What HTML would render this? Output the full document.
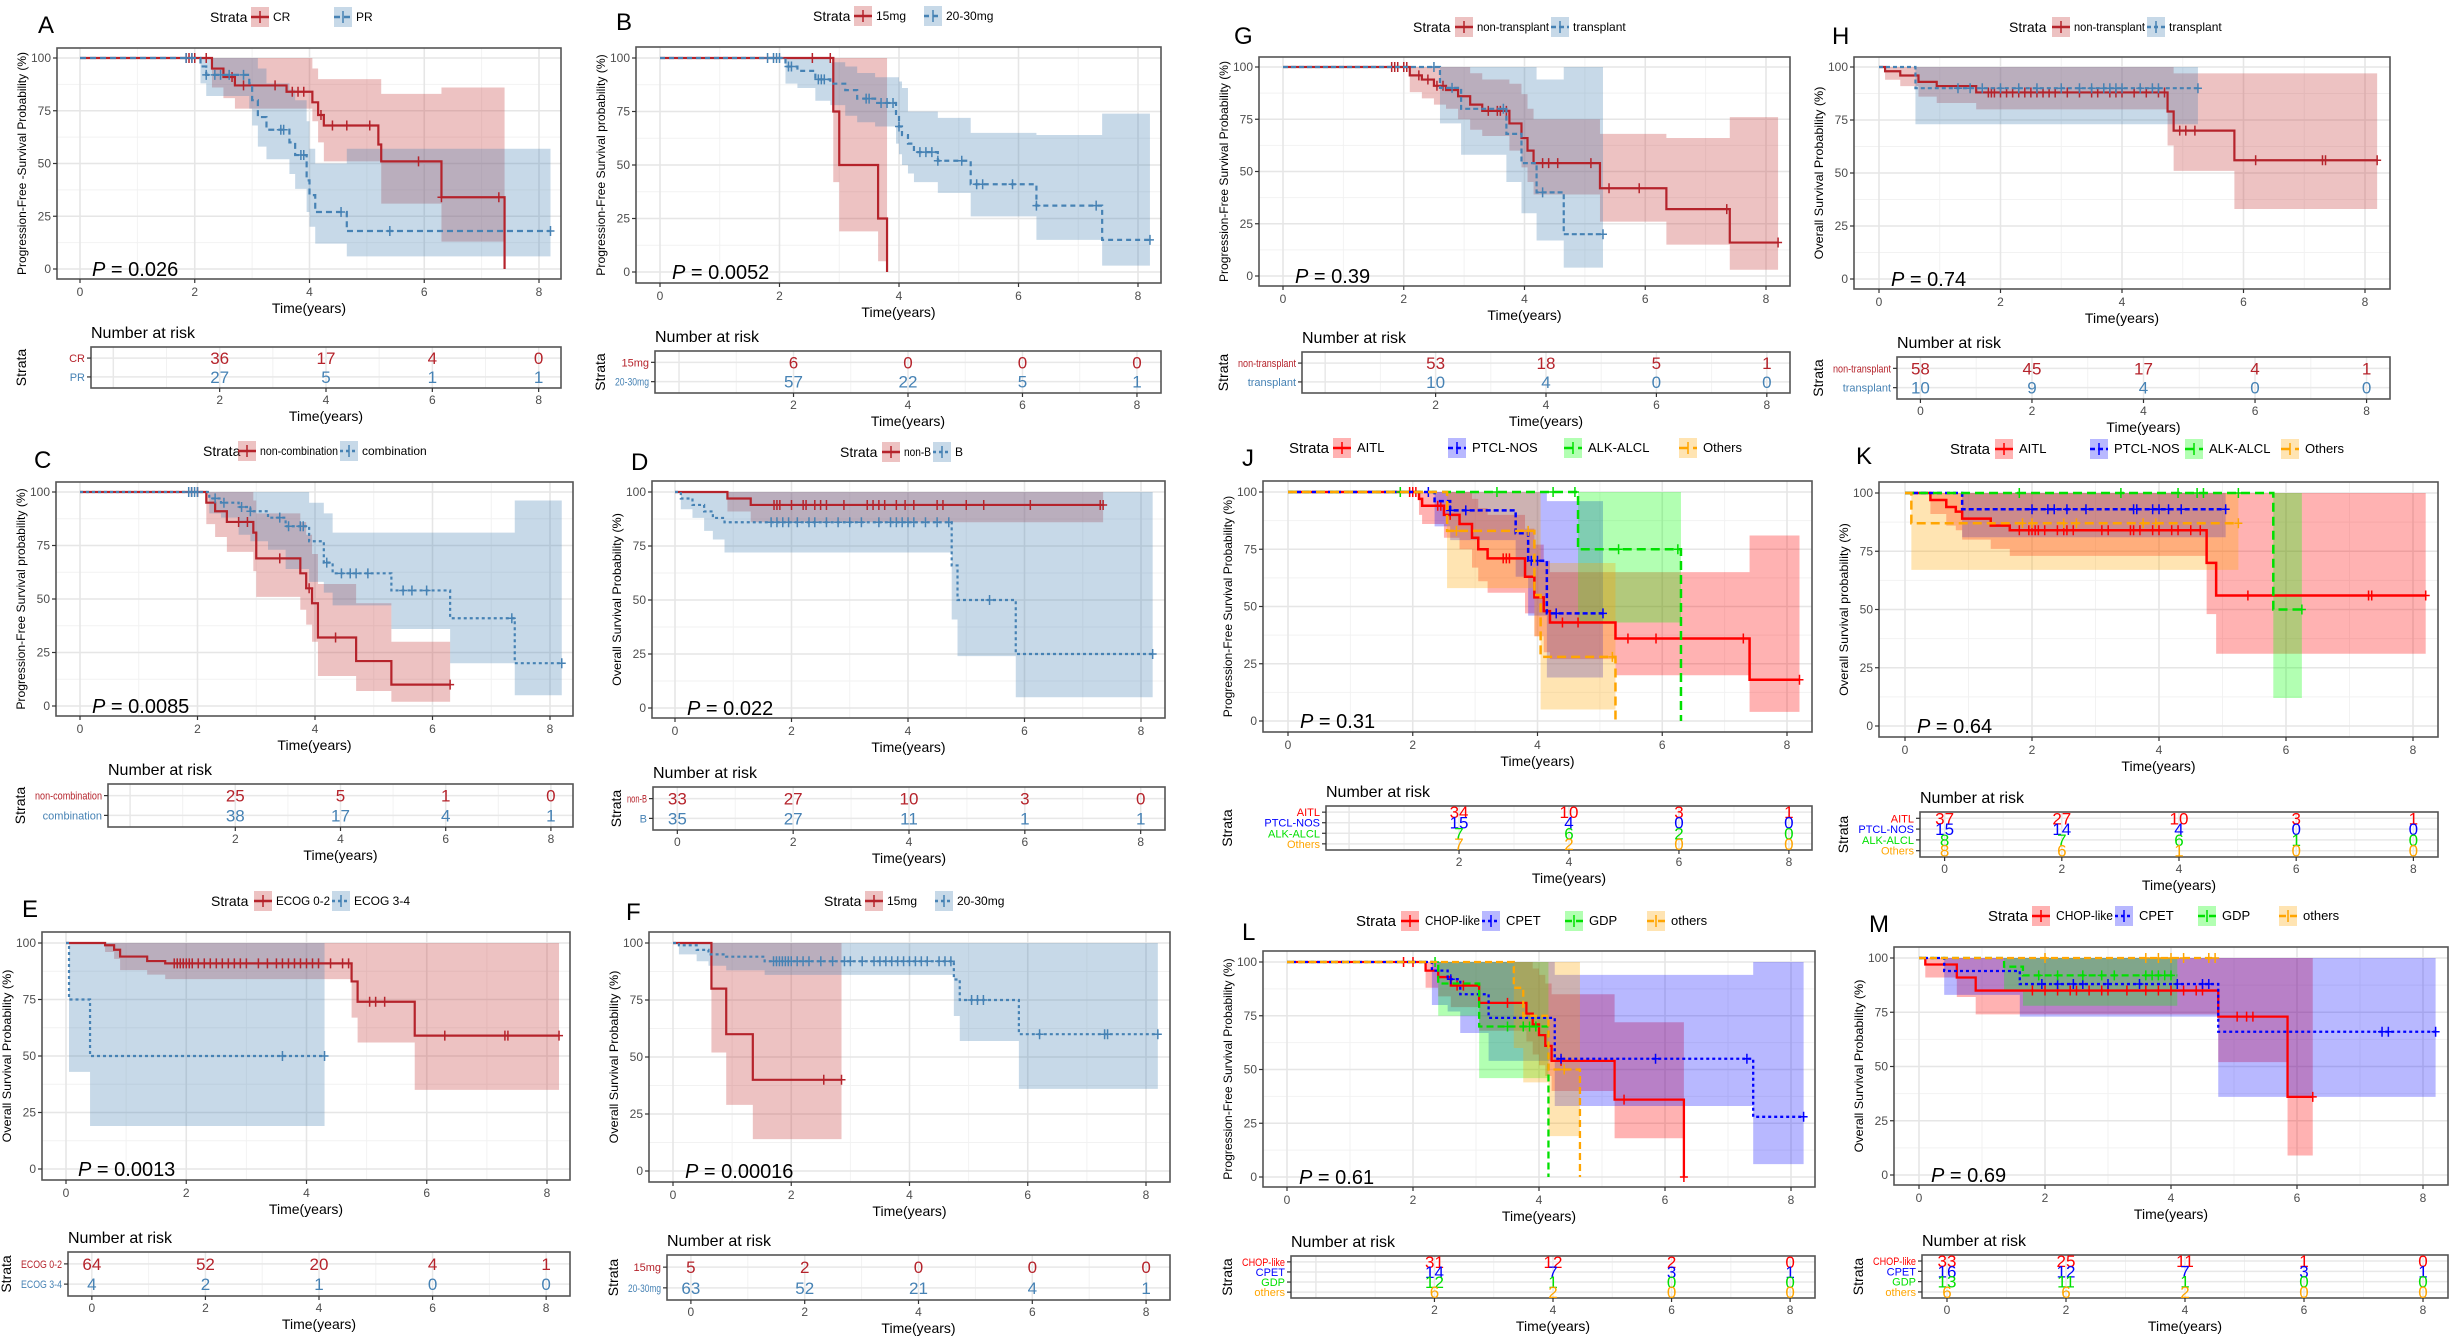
<!DOCTYPE html>
<html><head><meta charset="utf-8">
<style>
html,body{margin:0;padding:0;background:#fff;}
svg{display:block;font-family:"Liberation Sans",Arial,sans-serif;}
</style></head>
<body>
<svg id="fig" xmlns="http://www.w3.org/2000/svg" width="2458" height="1336" viewBox="0 0 2458 1336"></svg>
<script>
// ===== DATA =====
const A_CR_t=[2.3,2.5,2.7,3.6,4.05,4.15,4.25,5.2,5.25,6.3,7.4];
const A_CR_s=[95,91,87,84,79,73,68,59,51,34,0];
const A_CR_hi=[100,100,100,100,95,90,90,90,83,86,0];
const A_CR_lo=[86,81,76,76,70,60,51,51,31,13,0];
const A_CR_c=[1.85,1.9,1.95,2.0,2.2,2.65,2.85,3.4,3.7,3.8,3.9,4.2,4.4,4.65,5.05,5.9,6.3,7.3];
const A_PR_t=[2.1,2.2,2.95,3.0,3.1,3.25,3.65,3.75,3.95,4.0,4.1,4.65];
const A_PR_s=[96,92,88,80,72,66,60,54,42,35,27,18];
const A_PR_hi=[100,100,100,100,95,88,85,80,70,57,50,57];
const A_PR_lo=[88,82,76,68,58,52,45,38,27,20,12,6];
const A_PR_c=[1.85,1.95,2.2,2.35,2.45,2.6,2.85,3.5,3.55,3.85,3.9,4.55,5.4,8.2];
const A_risk_CR=[36,17,4,0], A_risk_PR=[27,5,1,1];
const B_15_t=[2.9,3.0,3.65,3.8], B_15_s=[75,50,25,0], B_15_hi=[100,100,100,0], B_15_lo=[42,19,5,0], B_15_c=[2.55,2.85];
const B_20_t=[2.1,2.3,2.6,2.85,3.1,3.3,3.6,3.95,4.0,4.05,4.15,4.25,4.65,5.2,6.3,7.4];
const B_20_s=[96,94,90,88,85,81,79,73,68,64,60,56,52,41,31,15];
const B_20_hi=[100,100,100,98,96,93,91,91,89,86,75,75,72,65,64,74];
const B_20_lo=[88,86,80,78,73,70,68,60,55,50,46,42,37,26,15,3];
const B_20_c=[1.8,1.9,1.95,2.0,2.15,2.2,2.65,2.7,2.75,3.45,3.5,3.7,3.8,3.9,4.0,4.35,4.45,4.55,4.65,5.05,5.3,5.4,5.9,6.3,7.3,8.2];
const B_risk_15=[6,0,0,0], B_risk_20=[57,22,5,1];
const C_NC_t=[2.15,2.3,2.5,2.95,3.0,3.75,3.85,3.95,4.05,4.7,5.3];
const C_NC_s=[95,91,86,81,69,62,55,48,32,21,10];
const C_NC_hi=[100,100,100,96,90,86,80,71,57,48,30];
const C_NC_lo=[85,79,72,63,51,45,38,30,14,7,2];
const C_NC_c=[1.9,2.0,2.7,2.85,3.4,3.9,4.35,6.3];
const C_CO_t=[2.2,2.4,2.7,2.9,3.2,3.5,3.9,4.15,4.3,5.3,6.3,7.4];
const C_CO_s=[97,95,93,91,88,84,77,67,62,54,41,20];
const C_CO_hi=[100,100,100,100,100,100,95,90,81,81,81,96];
const C_CO_lo=[90,88,80,77,73,64,58,53,47,36,20,5];
const C_CO_c=[1.85,1.9,1.95,2.0,2.3,2.45,2.75,2.9,3.4,3.55,3.75,3.8,4.2,4.45,4.6,4.7,4.9,5.5,5.65,5.9,7.35,8.2];
const C_risk_NC=[25,5,1,0], C_risk_CO=[38,17,4,1];
const D_NB_t=[0.9,1.3], D_NB_s=[97,94], D_NB_hi=[100,100], D_NB_lo=[91,86];
const D_NB_c=[1.7,1.75,1.8,2.0,2.2,2.25,2.4,2.5,2.6,2.9,3.3,3.4,3.5,3.6,3.8,3.95,4.1,4.5,4.6,5.0,5.3,6.1,7.3,7.35];
const D_B_t=[0.1,0.3,0.5,0.65,0.85,4.75,4.85,5.85], D_B_s=[97,94,91,88,86,66,50,25];
const D_B_hi=[100,100,100,100,100,100,100,100], D_B_lo=[92,88,82,78,72,41,24,5];
const D_B_c=[1.65,1.75,1.85,1.95,2.1,2.3,2.4,2.6,2.8,3.0,3.2,3.5,3.7,3.8,3.9,4.0,4.1,4.3,4.5,4.7,5.4,8.2];
const D_risk_NB=[33,27,10,3,0], D_risk_B=[35,27,11,1,1];
const E_G1_t=[0.65,0.8,0.9,1.35,1.65,4.75,4.85,5.8], E_G1_s=[99,97,94,92,91,83,74,59];
const E_G1_hi=[100,100,100,100,100,100,100,100], E_G1_lo=[96,93,88,86,84,67,56,35];
const E_G1_c=[1.8,1.85,1.9,1.95,2.0,2.05,2.1,2.2,2.3,2.4,2.5,2.6,2.7,2.8,2.9,3.0,3.2,3.35,3.5,3.6,3.7,3.8,3.9,4.0,4.1,4.2,4.4,4.6,4.7,5.05,5.15,5.3,6.3,7.3,7.35,8.2];
const E_G2_t=[0.05,0.4], E_G2_s=[75,50], E_G2_hi=[100,100], E_G2_lo=[43,19], E_G2_c=[3.6,4.3];
const E_risk_G1=[64,52,20,4,1], E_risk_G2=[4,2,1,0,0];
const F_15_t=[0.65,0.9,1.35], F_15_s=[80,60,40], F_15_hi=[100,100,100], F_15_lo=[52,29,14], F_15_c=[2.55,2.85];
const F_20_t=[0.1,0.4,0.6,0.9,1.55,4.75,4.85,5.85], F_20_s=[99,97,95,94,92,84,75,60];
const F_20_hi=[100,100,100,100,100,100,100,100], F_20_lo=[95,92,90,88,86,68,57,36];
const F_20_c=[1.7,1.75,1.8,1.85,1.9,1.95,2.0,2.1,2.2,2.3,2.5,2.7,2.9,3.0,3.2,3.4,3.5,3.6,3.7,3.8,3.9,4.0,4.1,4.2,4.3,4.5,4.6,4.7,5.05,5.15,5.25,6.2,7.3,7.35,8.2];
const F_risk_15=[5,2,0,0,0], F_risk_20=[63,52,21,4,1];
const G_NT_t=[2.1,2.3,2.5,2.7,2.9,3.1,3.3,3.75,3.95,4.05,4.15,5.25,6.35,7.4];
const G_NT_s=[96,94,91,89,86,82,79,73,66,60,54,42,32,16];
const G_NT_hi=[100,100,100,100,100,97,94,92,87,80,75,68,66,76];
const G_NT_lo=[88,85,82,80,75,70,67,60,52,45,39,26,15,3];
const G_NT_c=[1.8,1.85,1.9,2.0,2.05,2.25,2.4,2.55,2.65,3.4,3.55,3.6,3.7,4.3,4.4,4.55,5.1,5.4,5.9,7.35,8.2];
const G_T_t=[2.6,2.95,3.7,3.95,4.2,4.65], G_T_s=[90,80,68,54,40,20];
const G_T_hi=[100,100,100,100,94,100], G_T_lo=[73,58,45,30,17,4];
const G_T_c=[2.5,2.8,3.65,4.3,5.3];
const G_risk_NT=[53,18,5,1], G_risk_T=[10,4,0,0];
const H_NT_t=[0.1,0.35,0.65,0.95,1.6,4.75,4.85,5.85], H_NT_s=[98,96,93,91,88,79,70,56];
const H_NT_hi=[100,100,100,100,100,100,97,97], H_NT_lo=[94,91,86,83,80,63,51,33];
const H_NT_c=[1.8,1.85,1.9,2.0,2.1,2.2,2.3,2.4,2.5,2.6,2.7,2.8,2.9,3.1,3.3,3.5,3.6,3.8,3.9,4.0,4.2,4.4,4.6,4.7,4.95,5.05,5.2,6.2,7.3,7.35,8.2];
const H_T_t=[0.6], H_T_s=[90], H_T_hi=[100], H_T_lo=[73];
const H_T_c=[1.3,1.5,1.7,2.0,2.3,2.6,3.0,3.3,3.5,3.7,3.8,3.9,4.0,4.3,4.5,4.6,5.25];
const H_risk_NT=[58,45,17,4,1], H_risk_T=[10,9,4,0,0];
const J_AI_t=[2.1,2.15,2.5,2.75,2.95,3.05,3.2,3.8,3.95,4.1,4.2,5.25,7.4];
const J_AI_s=[97,94,90,86,80,75,71,63,54,48,43,36,18];
const J_AI_hi=[100,100,100,100,97,93,90,84,77,70,65,65,81];
const J_AI_lo=[90,86,80,75,67,61,56,47,37,30,27,20,4];
const J_AI_c=[1.8,1.95,2.0,2.05,2.4,2.45,2.6,3.45,3.5,3.55,4.4,4.65,5.45,5.9,7.3,8.2];
const J_PT_t=[2.35,2.6,3.65,3.85,4.15], J_PT_s=[96,92,82,70,47], J_PT_hi=[100,100,100,100,96], J_PT_lo=[85,79,63,46,19];
const J_PT_c=[2.25,2.6,2.85,3.9,4.0,4.3,5.05];
const J_AL_t=[4.65,6.3], J_AL_s=[75,0], J_AL_hi=[100,0], J_AL_lo=[43,0], J_AL_c=[1.8,3.35,4.25,4.6,5.3,6.25];
const J_OT_t=[2.55,3.95,4.05,5.25], J_OT_s=[83,55,28,0], J_OT_hi=[100,100,69,0], J_OT_lo=[58,37,5,0], J_OT_c=[2.7,3.85,5.2];
const J_risk_AI=[34,10,3,1], J_risk_PT=[15,4,0,0], J_risk_AL=[7,6,2,0], J_risk_OT=[7,2,0,0];
const K_AI_t=[0.4,0.65,0.8,0.9,1.35,1.65,4.75,4.9], K_AI_s=[97,94,92,89,86,84,70,56];
const K_AI_hi=[100,100,100,100,100,100,100,100], K_AI_lo=[91,86,84,80,76,73,48,31];
const K_AI_c=[1.8,1.95,2.0,2.05,2.1,2.2,2.4,2.5,2.55,2.65,3.1,3.2,3.55,3.6,3.7,3.9,4.0,4.2,4.3,4.5,4.65,5.4,7.3,7.35,8.2];
const K_PT_t=[0.9], K_PT_s=[93], K_PT_hi=[100], K_PT_lo=[81];
const K_PT_c=[2.0,2.25,2.35,2.55,2.85,3.6,3.65,3.9,4.0,4.15,4.35,5.05];
const K_AL_t=[5.8], K_AL_s=[50], K_AL_hi=[100], K_AL_lo=[12], K_AL_c=[1.8,3.4,4.3,4.6,4.7,5.25,6.25];
const K_OT_t=[0.1], K_OT_s=[87], K_OT_hi=[100], K_OT_lo=[67], K_OT_c=[1.85,2.0,2.5,2.7,3.75,3.95,5.25];
const K_risk_AI=[37,27,10,3,1], K_risk_PT=[15,14,4,0,0], K_risk_AL=[8,7,6,1,0], K_risk_OT=[8,6,1,0,0];
const L_CH_t=[2.2,2.4,2.6,3.05,3.8,3.9,4.0,4.1,4.2,5.2,6.3], L_CH_s=[96,93,89,81,76,71,66,61,54,36,0];
const L_CH_hi=[100,100,100,100,100,97,94,90,85,72,0], L_CH_lo=[88,84,79,68,63,57,52,47,40,18,0];
const L_CH_c=[1.85,2.0,2.7,2.8,3.5,4.35,5.35,6.3];
const L_CP_t=[2.3,2.55,2.75,3.2,4.25,7.4], L_CP_s=[96,92,85,74,55,28];
const L_CP_hi=[100,100,100,100,94,100], L_CP_lo=[80,77,67,54,33,6];
const L_CP_c=[2.6,4.35,5.85,7.3,8.2];
const L_GD_t=[2.4,3.05,4.15], L_GD_s=[90,70,0], L_GD_hi=[100,100,0], L_GD_lo=[75,46,0], L_GD_c=[2.35,3.5,3.75,3.85,3.95];
const L_OT_t=[3.6,3.75,4.15,4.65], L_OT_s=[88,75,50,0], L_OT_hi=[100,100,100,0], L_OT_lo=[60,44,19,0], L_OT_c=[4.4];
const L_risk_CH=[31,12,2,0], L_risk_CP=[14,7,3,1], L_risk_GD=[12,1,0,0], L_risk_OT=[6,2,0,0];
const M_CH_t=[0.1,0.6,0.9,4.75,5.85], M_CH_s=[97,91,85,73,36], M_CH_hi=[100,100,100,100,100], M_CH_lo=[91,82,74,52,9];
const M_CH_c=[1.8,2.0,2.2,2.4,2.5,2.7,2.9,3.0,3.3,3.6,3.8,4.0,4.2,4.4,4.5,5.05,5.2,5.3,6.25];
const M_CP_t=[0.4,1.6,4.75], M_CP_s=[94,88,66], M_CP_hi=[100,100,100], M_CP_lo=[83,73,36];
const M_CP_c=[1.95,2.2,2.45,2.6,3.0,3.5,4.1,4.5,4.6,7.35,7.45,8.2];
const M_GD_t=[1.35,1.65], M_GD_s=[96,92], M_GD_hi=[100,100], M_GD_lo=[85,78];
const M_GD_c=[1.9,2.2,2.6,2.9,3.1,3.6,3.7,3.8,3.9,4.0];
const M_OT_t=[], M_OT_s=[], M_OT_hi=[], M_OT_lo=[], M_OT_c=[2.0,3.6,3.8,4.0,4.2,4.6,4.7];
const M_risk_CH=[33,25,11,1,0], M_risk_CP=[16,12,7,3,1], M_risk_GD=[13,11,1,0,0], M_risk_OT=[6,6,2,0,0];

const T4=[2,4,6,8], T5=[0,2,4,6,8];
const RED='#B5232B', REDF='rgba(200,70,70,0.33)', BLU='#4682B4', BLUF='rgba(70,130,180,0.3)';
const C4=['#FF0000','#0000FF','#00E000','#FFA500'];
const F4=['rgba(255,0,0,0.3)','rgba(0,0,255,0.28)','rgba(0,255,0,0.3)','rgba(255,165,0,0.3)'];
function S(name,color,fill,dash,t,s,lo,hi,c,end,risk){return {name,color,fill,dash,t,s,lo,hi,c,end,risk};}

const panels=[
 {L:'A',lt:[38,33],box:[57,48,561,279],x0:80,x8:539,y100:58,y0:269,yl:'Progression-Free -Survival Probability (%)',P:'0.026',leg:[210,17,[251,334]],
  rb:[91,347,561,388],rt:T4,lw:2.2,
  ser:[S('CR',RED,REDF,null,A_CR_t,A_CR_s,A_CR_lo,A_CR_hi,A_CR_c,7.4,A_risk_CR),S('PR',BLU,BLUF,'6,4',A_PR_t,A_PR_s,A_PR_lo,A_PR_hi,A_PR_c,8.2,A_risk_PR)]},
 {L:'B',lt:[616,30],box:[636,47,1161,283],x0:660,x8:1138,y100:58,y0:272,yl:'Progression-Free Survival probability (%)',P:'0.0052',leg:[813,16,[854,924]],
  rb:[655,351,1161,393],rt:T4,lw:2.2,
  ser:[S('15mg',RED,REDF,null,B_15_t,B_15_s,B_15_lo,B_15_hi,B_15_c,3.8,B_risk_15),S('20-30mg',BLU,BLUF,'5,4',B_20_t,B_20_s,B_20_lo,B_20_hi,B_20_c,8.2,B_risk_20)]},
 {L:'C',lt:[34,468],box:[56,482,573,716],x0:80,x8:550,y100:492,y0:706,yl:'Progression-Free Survival probability (%)',P:'0.0085',leg:[203,451,[238,340]],
  rb:[108,784,573,827],rt:T4,lw:2.2,
  ser:[S('non-combination',RED,REDF,null,C_NC_t,C_NC_s,C_NC_lo,C_NC_hi,C_NC_c,6.3,C_risk_NC),S('combination',BLU,BLUF,'3,3',C_CO_t,C_CO_s,C_CO_lo,C_CO_hi,C_CO_c,8.2,C_risk_CO)]},
 {L:'D',lt:[631,470],box:[652,481,1165,718],x0:675,x8:1141,y100:492,y0:708,yl:'Overall Survival Probability (%)',P:'0.022',leg:[840,452,[882,933]],
  rb:[653,787,1165,830],rt:T5,lw:2.2,
  ser:[S('non-B',RED,REDF,null,D_NB_t,D_NB_s,D_NB_lo,D_NB_hi,D_NB_c,7.35,D_risk_NB),S('B',BLU,BLUF,'3,3',D_B_t,D_B_s,D_B_lo,D_B_hi,D_B_c,8.2,D_risk_B)]},
 {L:'E',lt:[22,917],box:[42,932,570,1180],x0:66,x8:547,y100:943,y0:1169,yl:'Overall Survival Probability (%)',P:'0.0013',leg:[211,901,[254,332]],
  rb:[68,1252,570,1296],rt:T5,lw:2.2,
  ser:[S('ECOG 0-2',RED,REDF,null,E_G1_t,E_G1_s,E_G1_lo,E_G1_hi,E_G1_c,8.2,E_risk_G1),S('ECOG 3-4',BLU,BLUF,'3,3',E_G2_t,E_G2_s,E_G2_lo,E_G2_hi,E_G2_c,4.3,E_risk_G2)]},
 {L:'F',lt:[626,920],box:[649,932,1170,1182],x0:673,x8:1146,y100:943,y0:1171,yl:'Overall Survival Probability (%)',P:'0.00016',leg:[824,901,[865,935]],
  rb:[667,1255,1170,1300],rt:T5,lw:2.2,
  ser:[S('15mg',RED,REDF,null,F_15_t,F_15_s,F_15_lo,F_15_hi,F_15_c,2.85,F_risk_15),S('20-30mg',BLU,BLUF,'3,3',F_20_t,F_20_s,F_20_lo,F_20_hi,F_20_c,8.2,F_risk_20)]},
 {L:'G',lt:[1234,44],box:[1259,57,1790,286],x0:1283,x8:1766,y100:67,y0:276,yl:'Progression-Free Survival Probability (%)',P:'0.39',leg:[1413,27,[1455,1551]],
  rb:[1302,352,1790,393],rt:T4,lw:2.2,
  ser:[S('non-transplant',RED,REDF,null,G_NT_t,G_NT_s,G_NT_lo,G_NT_hi,G_NT_c,8.2,G_risk_NT),S('transplant',BLU,BLUF,'5,3',G_T_t,G_T_s,G_T_lo,G_T_hi,G_T_c,5.3,G_risk_T)]},
 {L:'H',lt:[1832,44],box:[1854,57,2390,289],x0:1879,x8:2365,y100:67,y0:279,yl:'Overall Survival Probability (%)',P:'0.74',leg:[2009,27,[2052,2147]],
  rb:[1897,357,2390,399],rt:T5,lw:2.2,
  ser:[S('non-transplant',RED,REDF,null,H_NT_t,H_NT_s,H_NT_lo,H_NT_hi,H_NT_c,8.2,H_risk_NT),S('transplant',BLU,BLUF,'4,3',H_T_t,H_T_s,H_T_lo,H_T_hi,H_T_c,5.25,H_risk_T)]},
 {L:'J',lt:[1242,466],box:[1263,481,1812,732],x0:1288,x8:1787,y100:492,y0:721,yl:'Progression-Free Survival Probability (%)',P:'0.31',leg:[1289,448,[1333,1448,1564,1679]],
  rb:[1326,806,1812,850],rt:T4,lw:2.5,
  ser:[S('AITL',C4[0],F4[0],null,J_AI_t,J_AI_s,J_AI_lo,J_AI_hi,J_AI_c,8.2,J_risk_AI),S('PTCL-NOS',C4[1],F4[1],'5,3',J_PT_t,J_PT_s,J_PT_lo,J_PT_hi,J_PT_c,5.05,J_risk_PT),
       S('ALK-ALCL',C4[2],F4[2],'9,5',J_AL_t,J_AL_s,J_AL_lo,J_AL_hi,J_AL_c,6.3,J_risk_AL),S('Others',C4[3],F4[3],'9,5',J_OT_t,J_OT_s,J_OT_lo,J_OT_hi,J_OT_c,5.25,J_risk_OT)]},
 {L:'K',lt:[1856,464],box:[1879,482,2438,737],x0:1905,x8:2413,y100:493,y0:726,yl:'Overall Survival probability (%)',P:'0.64',leg:[1950,449,[1995,2090,2185,2281]],
  rb:[1920,812,2438,857],rt:T5,lw:2.5,
  ser:[S('AITL',C4[0],F4[0],null,K_AI_t,K_AI_s,K_AI_lo,K_AI_hi,K_AI_c,8.2,K_risk_AI),S('PTCL-NOS',C4[1],F4[1],'5,3',K_PT_t,K_PT_s,K_PT_lo,K_PT_hi,K_PT_c,5.05,K_risk_PT),
       S('ALK-ALCL',C4[2],F4[2],'9,5',K_AL_t,K_AL_s,K_AL_lo,K_AL_hi,K_AL_c,6.25,K_risk_AL),S('Others',C4[3],F4[3],'9,5',K_OT_t,K_OT_s,K_OT_lo,K_OT_hi,K_OT_c,5.25,K_risk_OT)]},
 {L:'L',lt:[1242,940],box:[1263,951,1815,1187],x0:1287,x8:1791,y100:962,y0:1177,yl:'Progression-Free Survival Probability (%)',P:'0.61',leg:[1356,921,[1401,1482,1565,1647]],
  rb:[1291,1256,1815,1298],rt:T4,lw:2.3,
  ser:[S('CHOP-like',C4[0],F4[0],null,L_CH_t,L_CH_s,L_CH_lo,L_CH_hi,L_CH_c,6.3,L_risk_CH),S('CPET',C4[1],F4[1],'3,3',L_CP_t,L_CP_s,L_CP_lo,L_CP_hi,L_CP_c,8.2,L_risk_CP),
       S('GDP',C4[2],F4[2],'7,4',L_GD_t,L_GD_s,L_GD_lo,L_GD_hi,L_GD_c,4.15,L_risk_GD),S('others',C4[3],F4[3],'7,4',L_OT_t,L_OT_s,L_OT_lo,L_OT_hi,L_OT_c,4.65,L_risk_OT)]},
 {L:'M',lt:[1869,932],box:[1894,947,2448,1185],x0:1919,x8:2423,y100:958,y0:1175,yl:'Overall Survival Probability (%)',P:'0.69',leg:[1988,916,[2032,2115,2198,2279]],
  rb:[1922,1255,2448,1298],rt:T5,lw:2.3,
  ser:[S('CHOP-like',C4[0],F4[0],null,M_CH_t,M_CH_s,M_CH_lo,M_CH_hi,M_CH_c,6.25,M_risk_CH),S('CPET',C4[1],F4[1],'3,3',M_CP_t,M_CP_s,M_CP_lo,M_CP_hi,M_CP_c,8.2,M_risk_CP),
       S('GDP',C4[2],F4[2],'7,4',M_GD_t,M_GD_s,M_GD_lo,M_GD_hi,M_GD_c,4.1,M_risk_GD),S('others',C4[3],F4[3],'7,4',M_OT_t,M_OT_s,M_OT_lo,M_OT_hi,M_OT_c,4.7,M_risk_OT)]}
];

const NS='http://www.w3.org/2000/svg';
const svg=document.getElementById('fig');
function el(tag,attrs,parent,txt){const e=document.createElementNS(NS,tag);for(const k in attrs)e.setAttribute(k,attrs[k]);if(txt!==undefined)e.textContent=txt;(parent||svg).appendChild(e);return e;}
function slug(s){return s.toLowerCase().replace(/[^a-z0-9]+/g,'-').replace(/^-|-$/g,'');}
function fit(t,avail){try{if(t.getComputedTextLength()>avail){t.setAttribute('textLength',avail);t.setAttribute('lengthAdjust','spacingAndGlyphs');}}catch(e){}}

panels.forEach(p=>{
  const g=el('g',{});
  
  
  const [bx1,by1,bx2,by2]=p.box;
  const X=t=>p.x0+(p.x8-p.x0)*t/8;
  const Y=v=>p.y0+(p.y100-p.y0)*v/100;
  const lt=el('text',{x:p.lt[0],y:p.lt[1],'font-size':24,fill:'#000'},g,p.L);
   
  const lg=el('g',{},g);
   
  const fs4=p.ser.length>2;
  el('text',{x:p.leg[0],y:p.leg[1]+5,'font-size':fs4?15:14,fill:'#000'},lg,'Strata');
  p.ser.forEach((s,i)=>{
    const kx=p.leg[2][i], ky=p.leg[1]-10;
    const ent=el('g',{},lg);
     
    el('rect',{x:kx,y:ky,width:18,height:20,fill:s.fill},ent);
    el('line',{x1:kx,x2:kx+18,y1:ky+10,y2:ky+10,stroke:s.color,'stroke-width':2.5,'stroke-dasharray':s.dash||'none'},ent);
    el('line',{x1:kx+9,x2:kx+9,y1:ky+4,y2:ky+16,stroke:s.color,'stroke-width':1.5},ent);
    const lx=kx+(fs4?24:22);
    const tx=el('text',{x:lx,y:p.leg[1]+4,'font-size':fs4?13:12,fill:'#000'},ent,s.name);
    const nextX=i+1<p.ser.length?p.leg[2][i+1]:lx+200;
    fit(tx,nextX-lx-2);
  });
  el('rect',{x:bx1,y:by1,width:bx2-bx1,height:by2-by1,fill:'#fff'},g);
  const grid=el('g',{},g);  
  [12.5,37.5,62.5,87.5].forEach(v=>el('line',{x1:bx1,x2:bx2,y1:Y(v),y2:Y(v),stroke:'#F2F2F2','stroke-width':1},grid));
  [1,3,5,7].forEach(t=>el('line',{x1:X(t),x2:X(t),y1:by1,y2:by2,stroke:'#F2F2F2','stroke-width':1},grid));
  [0,25,50,75,100].forEach(v=>el('line',{x1:bx1,x2:bx2,y1:Y(v),y2:Y(v),stroke:'#E6E6E6','stroke-width':1.6},grid));
  [0,2,4,6,8].forEach(t=>el('line',{x1:X(t),x2:X(t),y1:by1,y2:by2,stroke:'#E6E6E6','stroke-width':1.6},grid));
  p.ser.forEach(s=>{
    if(!s.t.length) return;
    let d=`M${X(s.t[0])},${Y(s.hi[0])}`;
    for(let i=0;i<s.t.length;i++){
      const tn=i+1<s.t.length?s.t[i+1]:s.end;
      d+=` V${Y(s.hi[i])} H${X(tn)}`;
      if(i+1<s.t.length) d+=` V${Y(s.hi[i+1])}`;
    }
    for(let i=s.t.length-1;i>=0;i--){
      const tn=i+1<s.t.length?s.t[i+1]:s.end;
      d+=` L${X(tn)},${Y(s.lo[i])} H${X(s.t[i])}`;
    }
    d+=' Z';
    const b=el('path',{d:d,fill:s.fill,stroke:'none'},g);
     
  });
  p.ser.forEach(s=>{
    let d=`M${X(0)},${Y(100)}`;
    s.t.forEach((t,i)=>{d+=` H${X(t)} V${Y(s.s[i])}`;});
    d+=` H${X(s.end)}`;
    const ln=el('path',{d:d,fill:'none',stroke:s.color,'stroke-width':p.lw,'stroke-dasharray':s.dash||'none'},g);
     
    s.c.forEach(c=>{
      let v=100; s.t.forEach((t,i)=>{if(t<=c)v=s.s[i];});
      const m=el('path',{d:`M${X(c)},${Y(v)-5} V${Y(v)+5} M${X(c)-4},${Y(v)} H${X(c)+4}`,stroke:s.color,'stroke-width':1.5,fill:'none'},g);
       
    });
  });
  el('rect',{x:bx1,y:by1,width:bx2-bx1,height:by2-by1,fill:'none',stroke:'#555','stroke-width':1.6},g);
  [0,25,50,75,100].forEach(v=>{
    el('line',{x1:bx1-4,x2:bx1,y1:Y(v),y2:Y(v),stroke:'#333','stroke-width':1.2},g);
    const tl=el('text',{x:bx1-6,y:Y(v)+4,'font-size':12,fill:'#4D4D4D','text-anchor':'end'},g,String(v));
     
  });
  [0,2,4,6,8].forEach(t=>{
    el('line',{x1:X(t),x2:X(t),y1:by2,y2:by2+4,stroke:'#333','stroke-width':1.2},g);
    const tl=el('text',{x:X(t),y:by2+17,'font-size':12,fill:'#4D4D4D','text-anchor':'middle'},g,String(t));
     
  });
  const xt=el('text',{x:(bx1+bx2)/2,y:by2+34,'font-size':14,'text-anchor':'middle',fill:'#000'},g,'Time(years)');
   
  const yx=bx1-31, ym=(by1+by2)/2;
  const yt=el('text',{x:yx,y:ym,'font-size':12,'text-anchor':'middle',fill:'#000',transform:`rotate(-90 ${yx} ${ym})`,textLength:Math.min(by2-by1-8,p.yl.length*5.4),lengthAdjust:'spacingAndGlyphs'},g,p.yl);
   
  const pv=el('text',{x:X(0)+12,y:p.y0+7,'font-size':20,fill:'#000'},g);
   
  el('tspan',{'font-style':'italic'},pv,'P');
  el('tspan',{},pv,' = '+p.P);
  const [rx1,ry1,rx2,ry2]=p.rb;
  const RX=t=>rx1+(rx2-rx1)*(t+0.42)/8.84;
  const rg=el('g',{},g);  
  el('text',{x:rx1,y:ry1-9,'font-size':16,fill:'#000'},rg,'Number at risk');
  const n=p.ser.length;
  const rowY=i=>n===2?ry1+(ry2-ry1)*(i===0?0.27:0.73):ry1+(ry2-ry1)*(0.14+i*0.24);
  [1,3,5,7].forEach(t=>el('line',{x1:RX(t),x2:RX(t),y1:ry1,y2:ry2,stroke:'#F2F2F2','stroke-width':1},rg));
  [0,2,4,6,8].forEach(t=>el('line',{x1:RX(t),x2:RX(t),y1:ry1,y2:ry2,stroke:'#E8E8E8','stroke-width':1.5},rg));
  p.ser.forEach((s,i)=>el('line',{x1:rx1,x2:rx2,y1:rowY(i),y2:rowY(i),stroke:'#E8E8E8','stroke-width':1.5},rg));
  el('rect',{x:rx1,y:ry1,width:rx2-rx1,height:ry2-ry1,fill:'none',stroke:'#555','stroke-width':1.6},rg);
  const sx=bx1-31, sy=(ry1+ry2)/2;
  p.ser.forEach((s,i)=>{
    const y=rowY(i);
    el('line',{x1:rx1-4,x2:rx1,y1:y,y2:y,stroke:'#333','stroke-width':1.2},rg);
    const rl=el('text',{x:rx1-6,y:y+4,'font-size':11,fill:s.color,'text-anchor':'end'},rg,s.name);
     
    fit(rl,Math.max(20,rx1-6-(sx+10)));
    p.rt.forEach((t,j)=>{
      const rv=el('text',{x:RX(t),y:y+6,'font-size':17,fill:s.color,'text-anchor':'middle'},rg,String(s.risk[j]));
       
    });
  });
  p.rt.forEach(t=>{
    el('line',{x1:RX(t),x2:RX(t),y1:ry2,y2:ry2+4,stroke:'#333','stroke-width':1.2},rg);
    el('text',{x:RX(t),y:ry2+16,'font-size':12,fill:'#4D4D4D','text-anchor':'middle'},rg,String(t));
  });
  el('text',{x:(rx1+rx2)/2,y:ry2+33,'font-size':14,'text-anchor':'middle',fill:'#000'},rg,'Time(years)');
  el('text',{x:sx,y:sy,'font-size':14,'text-anchor':'middle',fill:'#000',transform:`rotate(-90 ${sx} ${sy})`},rg,'Strata');
});
</script>
</body></html>
